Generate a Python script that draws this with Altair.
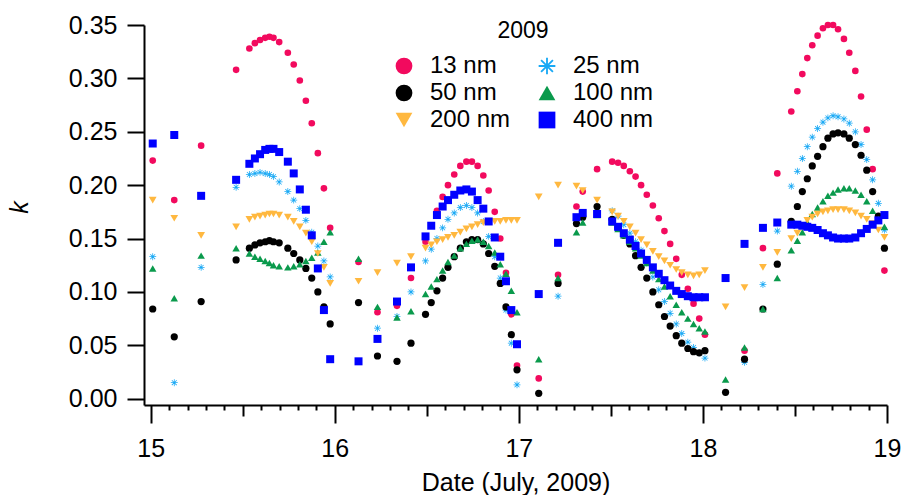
import altair as alt
import pandas as pd

# ---- time stamps (day of July 2009), four measurement segments ----
t_seg1 = [15.011, 15.128, 15.274, 15.464, 15.536, 15.566, 15.594, 15.622, 15.645, 15.667,
          15.698, 15.745, 15.777, 15.810, 15.843, 15.875, 15.908, 15.941, 15.975]
t_seg2 = [16.129, 16.232, 16.338, 16.414, 16.493, 16.524, 16.555, 16.586, 16.615, 16.649,
          16.682, 16.715, 16.745, 16.776, 16.807, 16.836, 16.869, 16.899, 16.930, 16.959, 16.990]
t_seg3 = [17.108, 17.213, 17.313, 17.347, 17.425, 17.507, 17.539, 17.570, 17.603, 17.634,
          17.664, 17.695, 17.728, 17.760, 17.791, 17.822, 17.855, 17.885, 17.918, 17.949,
          17.980, 18.011]
t_seg4 = [18.123, 18.226, 18.326, 18.404, 18.480, 18.513, 18.540, 18.567, 18.594, 18.623,
          18.652, 18.679, 18.707, 18.734, 18.766, 18.795, 18.828, 18.859, 18.890, 18.922,
          18.953, 18.986]

# ---- k values per particle size ----
k_13nm = [0.223, 0.186, 0.237, 0.308, 0.328, 0.333, 0.336, 0.338, 0.339, 0.338, 0.334, 0.324, 0.313, 0.298, 0.279, 0.258, 0.230, 0.197, 0.160,
          0.128, 0.081, 0.087, 0.113, 0.147, 0.162, 0.176, 0.189, 0.200, 0.210, 0.218, 0.222, 0.222, 0.218, 0.209, 0.195, 0.175, 0.150, 0.118, 0.079, 0.031,
          0.019, 0.116, 0.180, 0.194, 0.215, 0.222, 0.221, 0.218, 0.213, 0.208, 0.200, 0.191, 0.181, 0.169, 0.157, 0.145, 0.131, 0.116, 0.103, 0.089, 0.075, 0.060,
          None, 0.045, 0.141, 0.211, 0.269, 0.288, 0.304, 0.319, 0.331, 0.340, 0.347, 0.350, 0.350, 0.346, 0.337, 0.324, 0.307, 0.283, 0.252, 0.215, 0.170, 0.120]
k_25nm = [0.133, 0.015, 0.123, 0.198, 0.210, 0.211, 0.212, 0.211, 0.210, 0.208, 0.203, 0.194, 0.186, 0.178, 0.167, 0.156, 0.143, 0.129, 0.114,
          None, 0.066, 0.077, 0.100, 0.129, 0.140, 0.150, 0.160, 0.168, 0.174, 0.179, 0.181, 0.179, 0.174, 0.166, 0.152, 0.133, 0.113, 0.083, 0.052, 0.013,
          None, 0.096, 0.168, 0.171, 0.175, 0.176, 0.171, 0.163, 0.155, 0.147, 0.139, 0.127, 0.114, 0.102, 0.091, 0.080, 0.070, 0.061, 0.053, 0.048, 0.043, 0.038,
          None, 0.034, 0.107, 0.157, 0.199, 0.213, 0.225, 0.236, 0.245, 0.253, 0.259, 0.263, 0.265, 0.264, 0.262, 0.258, 0.250, 0.238, 0.224, 0.205, 0.183, 0.158]
k_50nm = [0.084, 0.058, 0.091, 0.130, 0.141, 0.144, 0.146, 0.147, 0.148, 0.147, 0.146, 0.141, 0.136, 0.130, 0.122, 0.113, 0.100, 0.086, 0.070,
          0.090, 0.040, 0.035, 0.052, 0.079, 0.090, 0.101, 0.113, 0.123, 0.133, 0.141, 0.147, 0.149, 0.149, 0.145, 0.136, 0.124, 0.108, 0.086, 0.060, 0.027,
          0.005, 0.108, 0.164, 0.170, 0.180, 0.168, 0.160, 0.153, 0.145, 0.134, 0.123, 0.113, 0.100, 0.088, 0.077, 0.068, 0.059, 0.052, 0.047, 0.044, 0.043, 0.045,
          0.006, 0.037, 0.084, 0.126, 0.166, 0.180, 0.194, 0.206, 0.218, 0.227, 0.236, 0.244, 0.248, 0.249, 0.248, 0.244, 0.238, 0.228, 0.214, 0.194, 0.171, 0.141]
k_100nm = [0.122, 0.094, 0.134, 0.141, 0.136, 0.133, 0.131, 0.129, 0.127, 0.125, 0.124, 0.123, 0.124, 0.126, 0.129, 0.132, 0.137, 0.147, 0.156,
           0.131, 0.086, 0.076, 0.082, 0.098, 0.105, 0.112, 0.120, 0.128, 0.134, 0.141, 0.145, 0.148, 0.149, 0.147, 0.143, 0.137, 0.126, 0.117, 0.101, 0.081,
           0.037, 0.113, 0.156, 0.165, 0.172, 0.165, 0.159, 0.153, 0.147, 0.141, 0.134, 0.127, 0.120, 0.112, 0.105, 0.096, 0.088, 0.081, 0.075, 0.070, 0.066, 0.063,
           0.018, 0.048, 0.084, 0.113, 0.139, 0.148, 0.156, 0.165, 0.173, 0.179, 0.185, 0.190, 0.193, 0.196, 0.197, 0.197, 0.195, 0.191, 0.185, 0.176, 0.168, 0.161]
k_200nm = [0.186, 0.169, 0.153, 0.161, 0.168, 0.170, 0.171, 0.172, 0.173, 0.173, 0.172, 0.170, 0.166, 0.161, 0.155, 0.147, 0.136, 0.123, 0.108,
           0.110, 0.118, 0.127, 0.133, 0.141, 0.144, 0.147, 0.149, 0.151, 0.153, 0.156, 0.159, 0.161, 0.163, 0.165, 0.166, 0.166, 0.166, 0.167, 0.167, 0.167,
           0.189, 0.200, 0.199, 0.195, 0.186, 0.175, 0.171, 0.166, 0.161, 0.155, 0.149, 0.144, 0.138, 0.133, 0.129, 0.125, 0.121, 0.118, 0.116, 0.115, 0.116, 0.120,
           0.086, 0.104, 0.123, 0.137, 0.150, 0.155, 0.161, 0.167, 0.170, 0.173, 0.175, 0.176, 0.177, 0.177, 0.177, 0.176, 0.174, 0.171, 0.168, 0.164, 0.158, 0.151]
k_400nm = [0.239, 0.247, 0.190, 0.205, 0.220, 0.225, 0.229, 0.233, 0.234, 0.234, 0.231, 0.222, 0.211, 0.196, 0.177, 0.153, 0.122, 0.083, 0.037,
           0.035, 0.056, 0.091, 0.123, 0.152, 0.162, 0.172, 0.180, 0.186, 0.191, 0.195, 0.196, 0.194, 0.186, 0.178, 0.166, 0.151, 0.133, 0.110, 0.083, 0.051,
           0.098, 0.146, 0.170, 0.174, 0.173, 0.166, 0.161, 0.155, 0.149, 0.143, 0.136, 0.130, 0.123, 0.117, 0.111, 0.106, 0.101, 0.098, 0.096, 0.095, 0.095, 0.095,
           0.113, 0.145, 0.160, 0.165, 0.163, 0.163, 0.162, 0.161, 0.160, 0.158, 0.155, 0.153, 0.151, 0.150, 0.150, 0.150, 0.151, 0.155, 0.159, 0.163, 0.167, 0.172]

# drawing order (bottom to top)
labels = ["13 nm", "25 nm", "50 nm", "100 nm", "200 nm", "400 nm"]
diameters = [13, 25, 50, 100, 200, 400]
series = [k_13nm, k_25nm, k_50nm, k_100nm, k_200nm, k_400nm]
times = t_seg1 + t_seg2 + t_seg3 + t_seg4

rows = []
for lab, dia, vals in zip(labels, diameters, series):
    for t, v in zip(times, vals):
        if v is not None:
            rows.append({"day": t, "k": v, "size": lab, "dia": dia})
df = pd.DataFrame(rows)

ASTERISK = ("M-1,-0.11H1V0.11H-1Z M-0.11,-1H0.11V1H-0.11Z "
            "M-0.629,-0.785L0.785,0.629L0.629,0.785L-0.785,-0.629Z "
            "M-0.785,0.629L0.629,-0.785L0.785,-0.629L-0.629,0.785Z")

# legend order (filled column by column: 13, 50, 200 | 25, 100, 400)
legend_order = ["13 nm", "50 nm", "200 nm", "25 nm", "100 nm", "400 nm"]
colors = ["#F20A5E", "#000000", "#FFB83F", "#19A9F5", "#0A9A4C", "#0000FF"]
shapes = ["circle", "circle", "triangle-down", ASTERISK, "triangle-up", "square"]
# marker areas in drawing order 13, 25, 50, 100, 200, 400
marker_sizes = [44, 64, 80, 66, 58, 56]

FONT = "Liberation Sans"
xscale = alt.Scale(domain=[14.9636, 19.0], nice=False, zero=False)
yscale = alt.Scale(domain=[-0.0059, 0.35], nice=False, zero=False)

legend = alt.Legend(
    title="2009", orient="none", legendX=248, legendY=-5, columns=2,
    symbolSize=280, symbolStrokeWidth=0, labelFontSize=24, titleFontSize=23,
    titleFontWeight="normal", titleAnchor="middle", titleAlign="center",
    labelOffset=14, columnPadding=24, rowPadding=3, titlePadding=11, padding=0,
    labelColor="black", titleColor="black", labelFont=FONT, titleFont=FONT,
)

x_major = alt.Axis(
    values=[15, 16, 17, 18, 19], format="d", orient="bottom", grid=False,
    tickSize=18, tickWidth=2, tickColor="black", domainWidth=2, domainColor="black",
    labelFontSize=25, labelColor="black", labelPadding=33, labelBaseline="alphabetic",
    labelFlush=False, title="Date (July, 2009)", titleFontSize=25, titleFontWeight="normal",
    titleColor="black", titleY=85, titleBaseline="alphabetic", labelFont=FONT, titleFont=FONT,
)
x_mid = alt.Axis(
    values=[15.5, 16.5, 17.5, 18.5], orient="bottom", grid=False, labels=False,
    domain=False, title=None, tickSize=11, tickWidth=2, tickColor="black",
)
x_minor = alt.Axis(
    values=[round(15 + i / 10, 1) for i in range(1, 40) if i % 5],
    orient="bottom", grid=False, labels=False, domain=False, title=None,
    tickSize=5, tickWidth=2, tickColor="black",
)
y_axis = alt.Axis(
    values=[0, 0.05, 0.10, 0.15, 0.20, 0.25, 0.30, 0.35], format=".2f", grid=False,
    tickSize=17, tickWidth=2, tickColor="black", domainWidth=2, domainColor="black",
    labelFontSize=25, labelColor="black", labelPadding=10, title="k",
    titleFontStyle="italic", titleFontSize=25, titleFontWeight="normal", titleColor="black",
    titleX=-112, titleY=182, labelFont=FONT, titleFont=FONT,
)

base = alt.Chart(df)
points = base.mark_point(filled=True, opacity=1, strokeWidth=0).encode(
    x=alt.X("day:Q", scale=xscale, axis=x_major),
    y=alt.Y("k:Q", scale=yscale, axis=y_axis),
    color=alt.Color("size:N", scale=alt.Scale(domain=legend_order, range=colors), legend=legend),
    shape=alt.Shape("size:N", scale=alt.Scale(domain=legend_order, range=shapes), legend=legend),
    size=alt.Size("dia:O", scale=alt.Scale(domain=diameters, range=marker_sizes), legend=None),
)
mid = base.mark_point(opacity=0, size=1).encode(
    x=alt.X("day:Q", scale=xscale, axis=x_mid),
    y=alt.Y("k:Q", scale=yscale, axis=None),
)
minor = base.mark_point(opacity=0, size=1).encode(
    x=alt.X("day:Q", scale=xscale, axis=x_minor),
    y=alt.Y("k:Q", scale=yscale, axis=None),
)

chart = (
    alt.layer(points, mid, minor)
    .resolve_axis(x="independent", y="independent")
    .properties(width=743, height=380, autosize="none",
                padding={"left": 144, "top": 25, "right": 16, "bottom": 90})
    .configure(font=FONT)
    .configure_view(stroke=None)
)

chart.save("out.html", embed_options={"renderer": "svg", "actions": False})
